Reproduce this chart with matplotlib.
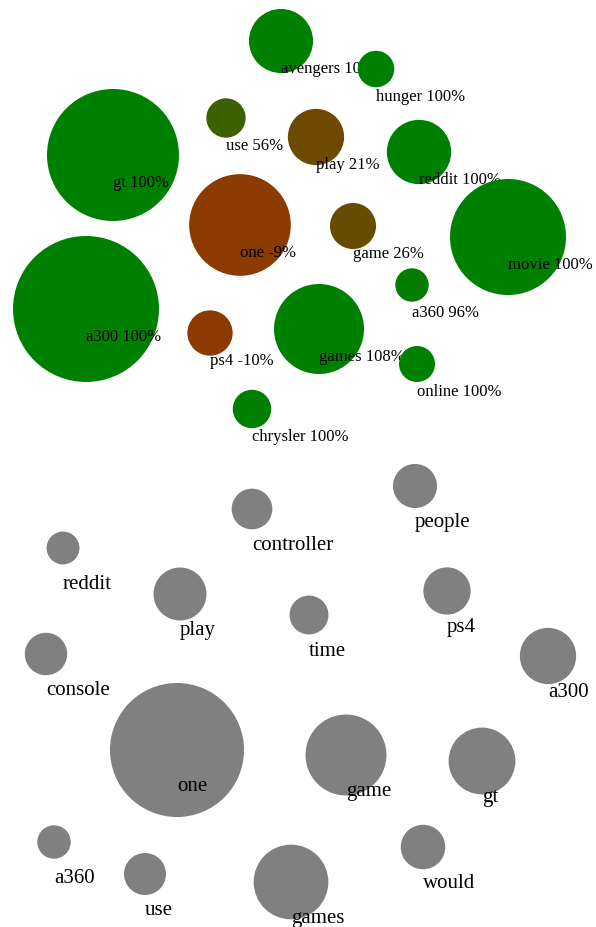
import matplotlib

matplotlib.use('agg')
import matplotlib.pyplot as plt
from matplotlib.patches import Circle
import numpy as np

# top cloud: word, count, change (%)
top_words = ['avengers', 'hunger', 'use', 'play', 'reddit', 'gt', 'one', 'game',
             'movie', 'a300', 'ps4', 'games', 'a360', 'online', 'chrysler']
top_counts = [114, 37, 43, 88, 115, 484, 287, 59, 374, 592, 57, 225, 31, 36, 41]
top_change = [100, 100, 56, 21, 100, 100, -9, 26, 100, 100, -10, 108, 96, 100, 100]
# force layout result (pixels)
top_x = [281, 376, 226, 316, 419, 113, 240, 353, 508, 86, 210, 319, 412, 417, 252]
top_y = [42, 70, 119, 138, 153, 156, 226, 227, 238, 310, 334, 330, 286, 365, 410]

# bottom cloud: word, count
bot_words = ['people', 'controller', 'reddit', 'play', 'time', 'ps4', 'console', 'a300',
             'one', 'game', 'gt', 'a360', 'use', 'games', 'would']
bot_counts = [54, 46, 30, 78, 42, 62, 50, 88, 499, 182, 124, 31, 49, 155, 55]
bot_x = [415, 252, 63, 180, 309, 447, 46, 548, 177, 346, 482, 54, 145, 291, 423]
bot_y = [487, 510, 549, 595, 616, 592, 655, 657, 751, 756, 762, 843, 875, 883, 848]

BROWN = np.array([139, 58, 0]) / 255.0
GREEN = np.array([0, 128, 0]) / 255.0


def change_color(p):
    t = min(max(p / 100.0, 0.0), 1.0)
    return tuple(BROWN * (1 - t) + GREEN * t)


def radius(c):
    return 3.0 * np.sqrt(c)


fig = plt.figure(figsize=(5.96, 9.28), dpi=100)
ax = fig.add_axes([0, 0, 1, 1])
ax.set_xlim(0, 596)
ax.set_ylim(928, 0)
ax.set_aspect('equal')
ax.axis('off')

z = 1
for w, c, p, x, y in zip(top_words, top_counts, top_change, top_x, top_y):
    ax.add_patch(Circle((x, y), radius(c), facecolor=change_color(p),
                        edgecolor='none', zorder=z))
    ax.text(x, y + 31, f'{w} {p}%', family='Liberation Serif', fontsize=12,
            ha='left', va='baseline', color='black', zorder=z + 1)
    z += 2

for w, c, x, y in zip(bot_words, bot_counts, bot_x, bot_y):
    ax.add_patch(Circle((x, y), radius(c), facecolor='#808080',
                        edgecolor='none', zorder=z))
    ax.text(x, y + 40, w, family='Liberation Serif', fontsize=15,
            ha='left', va='baseline', color='black', zorder=z + 1)
    z += 2

fig.savefig('out.png', dpi=100, facecolor='white')
